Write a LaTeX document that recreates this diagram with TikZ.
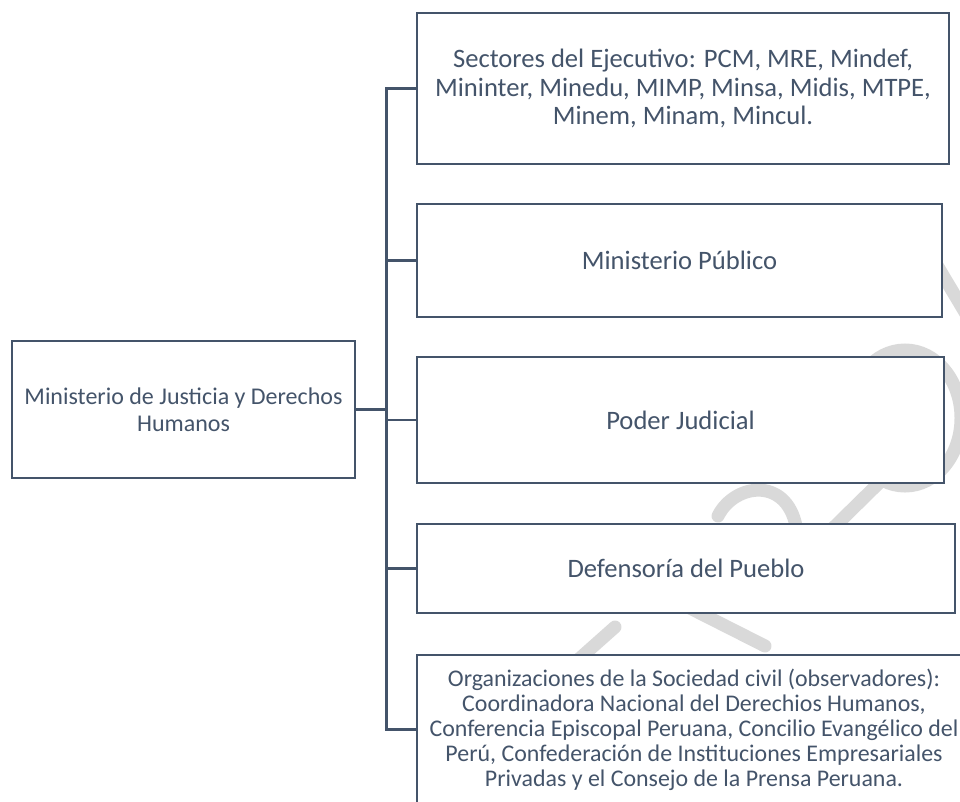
\documentclass[tikz,border=0pt]{standalone}
\usepackage{fontspec}
\setmainfont{Carlito}
\definecolor{ink}{HTML}{44546A}
\definecolor{wm}{HTML}{D9D9D9}
\begin{document}
\begin{tikzpicture}[x=1pt,y=-1pt,
  box/.style={draw=ink, line width=2.6pt, fill=white, text=ink, align=center, inner sep=0pt, font=\fontsize{26.6}{28.4}\selectfont},
  srcbox/.style={box, font=\fontsize{24}{26.7}\selectfont},
  smallbox/.style={box, font=\fontsize{23.9}{25.1}\selectfont},
  conn/.style={draw=ink, line width=2.6pt},
  wmark/.style={draw=wm, line width=13pt, line cap=round}]
\useasboundingbox (0,0) rectangle (960,802);
\clip (0,0) rectangle (960,802);
% watermark fragments (behind the boxes)
\draw[wmark] (615,627) -- (570,667);
\draw[wmark] (680,603) -- (765,646);
\draw[wmark] (718,516) .. controls (735,482) and (790,476) .. (797,532);
\draw[wmark] (825,536) -- (885,477);
\draw[wmark] (905,418) ellipse [x radius=56, y radius=68];
\draw[wmark] (935,262) -- (972,324);
% boxes
\node[srcbox, minimum width=343pt, minimum height=137pt] (src) at (183.5,409.5) {Ministerio de Justicia y Derechos\\Humanos};
\node[box, minimum width=532pt, minimum height=151pt] (b1) at (683,88.5) {Sectores del Ejecutivo: PCM, MRE, Mindef,\\Mininter, Minedu, MIMP, Minsa, Midis, MTPE,\\Minem, Minam, Mincul.};
\node[box, minimum width=525pt, minimum height=113pt] (b2) at (679.5,260.5) {Ministerio Público};
\node[box, minimum width=527pt, minimum height=126pt] (b3) at (680.5,420) {Poder Judicial};
\node[box, minimum width=538pt, minimum height=89pt] (b4) at (686,568.5) {Defensoría del Pueblo};
\node[smallbox, minimum width=554pt, minimum height=149pt] (b5) at (694,729.5) {Organizaciones de la Sociedad civil (observadores):\\Coordinadora Nacional del Derechios Humanos,\\Conferencia Episcopal Peruana, Concilio Evangélico del\\Perú, Confederación de Instituciones Empresariales\\Privadas y el Consejo de la Prensa Peruana.};
% connectors
\coordinate (j) at (386.5,409.5);
\draw[conn] (src.east) -- (j);
\draw[conn] (b1.west) -- (b1.west -| j) -- (b5.west -| j) -- (b5.west);
\foreach \b in {b2,b3,b4} \draw[conn] (\b.west) -- (\b.west -| j);
\end{tikzpicture}
\end{document}
